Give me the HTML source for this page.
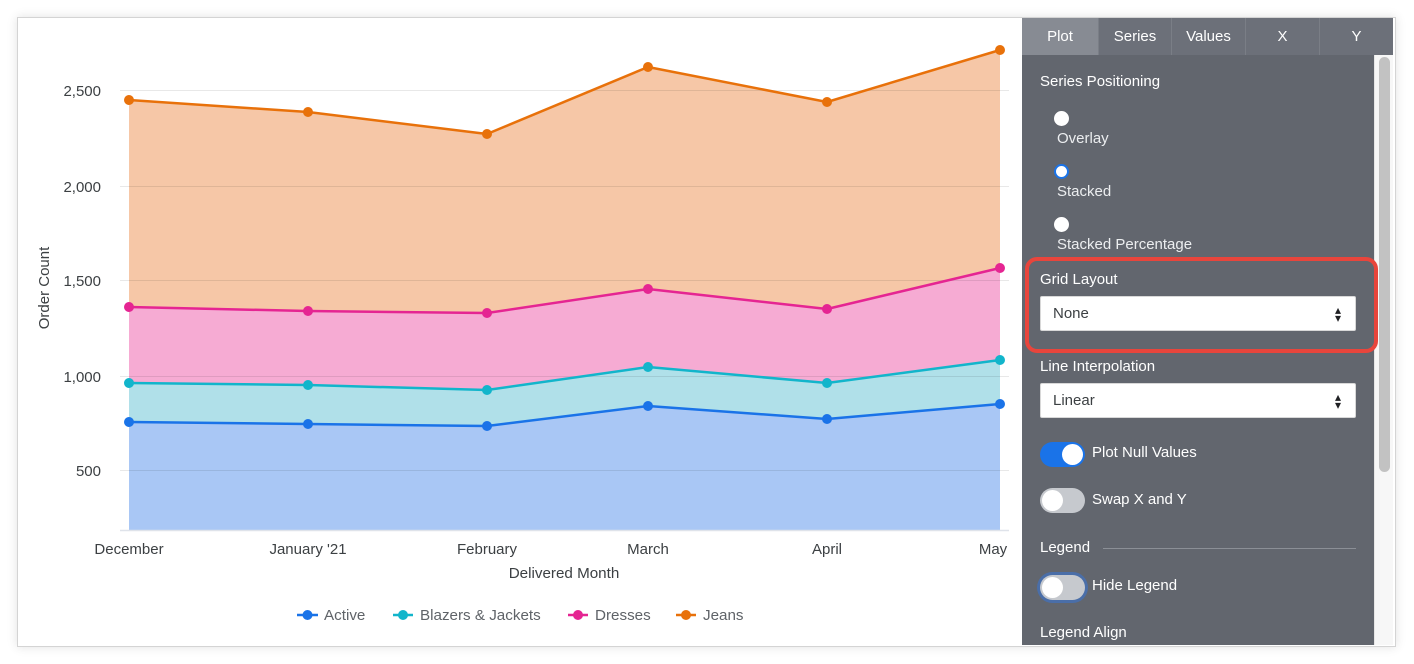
<!DOCTYPE html>
<html><head><meta charset="utf-8">
<style>
html,body{margin:0;padding:0;background:#fff;}
body{width:1414px;height:664px;position:relative;overflow:hidden;font-family:"Liberation Sans",Arial,sans-serif;}
.card{position:absolute;left:17px;top:17px;width:1377px;height:628px;border:1px solid #d4d4d4;background:#fff;box-shadow:0 0 10px rgba(0,0,0,0.12);}
.panel{position:absolute;left:1022px;top:55px;width:352px;height:590px;background:#62666e;}
.tabs{position:absolute;left:1022px;top:18px;width:371px;height:37px;background:#6c7079;}
.tab{position:absolute;top:0;height:37px;line-height:37px;text-align:center;color:#fff;font-size:15px;border-left:1px solid #7a7e86;box-sizing:border-box;}
.track{position:absolute;left:1374px;top:55px;width:19px;height:590px;background:#f7f7f7;border-left:1px solid #e6e6e6;box-sizing:border-box;}
.thumb{position:absolute;left:1379px;top:57px;width:11px;height:415px;background:#c2c2c2;border-radius:6px;}
.t{position:absolute;color:#fff;font-size:15px;line-height:18px;white-space:nowrap;}
.lab{color:#eceef0;}
.radio{position:absolute;width:15px;height:15px;border-radius:50%;background:#fff;box-sizing:border-box;}
.sel{position:absolute;left:1040px;width:316px;height:35px;background:#fff;border-radius:2px;box-sizing:border-box;border:1px solid #d8d8d8;}
.sel span{position:absolute;left:12px;top:8px;font-size:15px;color:#3c4043;}
.sel i{position:absolute;right:14px;top:9px;font-style:normal;font-size:12px;color:#202124;line-height:8px;}
.tog{position:absolute;left:1040px;width:45px;height:25px;border-radius:13px;}
.knob{position:absolute;top:2px;width:21px;height:21px;border-radius:50%;background:#fff;}
</style></head><body>
<div class="card"></div>

<svg width="1414" height="664" style="position:absolute;left:0;top:0" xmlns="http://www.w3.org/2000/svg">
  <polygon fill="#f6c7a7" points="129,100 308,112 487,134 648,67 827,102 1000,50 1000,268 827,309 648,289 487,313 308,311 129,307"/>
  <polygon fill="#f6abd3" points="129,307 308,311 487,313 648,289 827,309 1000,268 1000,360 827,383 648,367 487,390 308,385 129,383"/>
  <polygon fill="#b0e0e9" points="129,383 308,385 487,390 648,367 827,383 1000,360 1000,404 827,419 648,406 487,426 308,424 129,422"/>
  <polygon fill="#a9c7f5" points="129,422 308,424 487,426 648,406 827,419 1000,404 1000,530 129,530"/>
  <g stroke="rgba(0,0,0,0.09)" stroke-width="1">
    <line x1="120" y1="90.5" x2="1009" y2="90.5"/>
    <line x1="120" y1="186.5" x2="1009" y2="186.5"/>
    <line x1="120" y1="280.5" x2="1009" y2="280.5"/>
    <line x1="120" y1="376.5" x2="1009" y2="376.5"/>
    <line x1="120" y1="470.5" x2="1009" y2="470.5"/>
  </g>
  <line x1="120" y1="530.5" x2="1009" y2="530.5" stroke="#dfe3ea" stroke-width="1.5"/>
  <g fill="none" stroke-width="2.5" stroke-linejoin="round">
    <polyline stroke="#e8710a" points="129,100 308,112 487,134 648,67 827,102 1000,50"/>
    <polyline stroke="#e52592" points="129,307 308,311 487,313 648,289 827,309 1000,268"/>
    <polyline stroke="#12b5cb" points="129,383 308,385 487,390 648,367 827,383 1000,360"/>
    <polyline stroke="#1a73e8" points="129,422 308,424 487,426 648,406 827,419 1000,404"/>
  </g>
  <g fill="#e8710a"><circle cx="129" cy="100" r="5"/><circle cx="308" cy="112" r="5"/><circle cx="487" cy="134" r="5"/><circle cx="648" cy="67" r="5"/><circle cx="827" cy="102" r="5"/><circle cx="1000" cy="50" r="5"/></g>
  <g fill="#e52592"><circle cx="129" cy="307" r="5"/><circle cx="308" cy="311" r="5"/><circle cx="487" cy="313" r="5"/><circle cx="648" cy="289" r="5"/><circle cx="827" cy="309" r="5"/><circle cx="1000" cy="268" r="5"/></g>
  <g fill="#12b5cb"><circle cx="129" cy="383" r="5"/><circle cx="308" cy="385" r="5"/><circle cx="487" cy="390" r="5"/><circle cx="648" cy="367" r="5"/><circle cx="827" cy="383" r="5"/><circle cx="1000" cy="360" r="5"/></g>
  <g fill="#1a73e8"><circle cx="129" cy="422" r="5"/><circle cx="308" cy="424" r="5"/><circle cx="487" cy="426" r="5"/><circle cx="648" cy="406" r="5"/><circle cx="827" cy="419" r="5"/><circle cx="1000" cy="404" r="5"/></g>
  <g font-family="Liberation Sans, Arial, sans-serif" font-size="15" fill="#3c4043" text-anchor="end">
    <text x="101" y="96">2,500</text>
    <text x="101" y="192">2,000</text>
    <text x="101" y="286">1,500</text>
    <text x="101" y="382">1,000</text>
    <text x="101" y="476">500</text>
  </g>
  <text transform="translate(49,288) rotate(-90)" text-anchor="middle" font-family="Liberation Sans, Arial, sans-serif" font-size="15" fill="#3c4043">Order Count</text>
  <g font-family="Liberation Sans, Arial, sans-serif" font-size="15" fill="#3c4043" text-anchor="middle">
    <text x="129" y="554">December</text>
    <text x="308" y="554">January '21</text>
    <text x="487" y="554">February</text>
    <text x="648" y="554">March</text>
    <text x="827" y="554">April</text>
    <text x="993" y="554">May</text>
  </g>
  <text x="564" y="578" text-anchor="middle" font-family="Liberation Sans, Arial, sans-serif" font-size="15.2" fill="#3c4043">Delivered Month</text>
  <g stroke-width="2.5">
    <line x1="297" y1="615" x2="318" y2="615" stroke="#1a73e8"/><circle cx="307.5" cy="615" r="5" fill="#1a73e8"/>
    <line x1="393" y1="615" x2="413" y2="615" stroke="#12b5cb"/><circle cx="403" cy="615" r="5" fill="#12b5cb"/>
    <line x1="568" y1="615" x2="588" y2="615" stroke="#e52592"/><circle cx="578" cy="615" r="5" fill="#e52592"/>
    <line x1="676" y1="615" x2="696" y2="615" stroke="#e8710a"/><circle cx="686" cy="615" r="5" fill="#e8710a"/>
  </g>
  <g font-family="Liberation Sans, Arial, sans-serif" font-size="15.2" fill="#5f6368">
    <text x="324" y="620">Active</text>
    <text x="420" y="620">Blazers &amp; Jackets</text>
    <text x="595" y="620">Dresses</text>
    <text x="703" y="620">Jeans</text>
  </g>
</svg>

<div class="panel"></div>
<div class="tabs">
  <div class="tab" style="left:0;width:76px;background:#878b93;border-left:none;">Plot</div>
  <div class="tab" style="left:76px;width:73px;">Series</div>
  <div class="tab" style="left:149px;width:74px;">Values</div>
  <div class="tab" style="left:223px;width:74px;">X</div>
  <div class="tab" style="left:297px;width:74px;">Y</div>
</div>
<div class="track"></div>
<div class="thumb"></div>

<div class="t" style="left:1040px;top:73px;">Series Positioning</div>
<div class="radio" style="left:1054px;top:111px;"></div>
<div class="t lab" style="left:1057px;top:130px;">Overlay</div>
<div class="radio" style="left:1054px;top:164px;border:2.5px solid #1a73e8;"></div>
<div class="t lab" style="left:1057px;top:183px;">Stacked</div>
<div class="radio" style="left:1054px;top:217px;"></div>
<div class="t lab" style="left:1057px;top:236px;">Stacked Percentage</div>

<div style="position:absolute;left:1025px;top:257px;width:353px;height:96px;box-sizing:border-box;border:4px solid #e8453c;border-radius:12px;"></div>
<div class="t" style="left:1040px;top:271px;">Grid Layout</div>
<div class="sel" style="top:296px;"><span>None</span><i>▴<br>▾</i></div>

<div class="t" style="left:1040px;top:358px;">Line Interpolation</div>
<div class="sel" style="top:383px;"><span>Linear</span><i>▴<br>▾</i></div>

<div class="tog" style="top:442px;background:#1a73e8;"><div class="knob" style="left:22px;"></div></div>
<div class="t" style="left:1092px;top:444px;">Plot Null Values</div>

<div class="tog" style="top:488px;background:#c6c9ce;"><div class="knob" style="left:2px;"></div></div>
<div class="t" style="left:1092px;top:491px;">Swap X and Y</div>

<div class="t" style="left:1040px;top:539px;">Legend</div>
<div style="position:absolute;left:1103px;top:548px;width:253px;height:1px;background:#8b8f96;"></div>

<div class="tog" style="top:575px;height:25px;background:#c6c9ce;box-shadow:0 0 0 3px #4a6ea8;"><div class="knob" style="left:2px;"></div></div>
<div class="t" style="left:1092px;top:577px;">Hide Legend</div>

<div class="t" style="left:1040px;top:624px;">Legend Align</div>
</body></html>
